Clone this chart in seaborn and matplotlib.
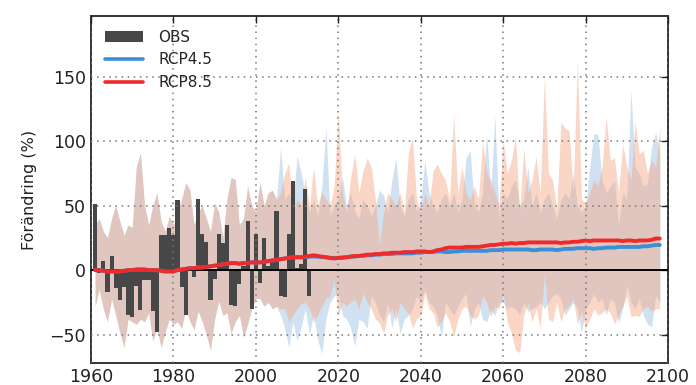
import numpy as np
import pandas as pd
import matplotlib
matplotlib.use("Agg")
import matplotlib.pyplot as plt
import seaborn as sns
from matplotlib.patches import Patch
from matplotlib.lines import Line2D

# ---------------- data ----------------
obs_years = list(range(1961, 2014))
obs_values = [51, -2, 7, -17, 11, -14, -23, -13, -35, -36,
              -12, -31, -8, -8, -32, -48, 27, 27, 33, 27,
              54, -13, -35, 2, -5, 55, 28, 22, -23, -7,
              28, 21, 35, -27, -28, -11, 3, 38, -30, 28,
              -10, 25, 3, 8, 46, -20, -21, 28, 69, 2,
              5, 63, -20]

hist_years = list(range(1961, 2006))
hist_upper = [35, 40, 30, 25, 40, 50, 38, 27, 35, 33,
              80, 91, 50, 35, 50, 60, 38, 30, 42, 35,
              45, 55, 68, 62, 35, 45, 50, 40, 30, 52,
              45, 25, 55, 72, 70, 35, 40, 65, 50, 45,
              68, 50, 60, 62, 55]
hist_lower = [-28, -15, -30, -40, -22, -35, -48, -60, -38, -40,
              -42, -38, -40, -33, -55, -45, -60, -48, -38, -42,
              -40, -45, -30, -40, -46, -32, -40, -50, -62, -38,
              -24, -35, -33, -49, -40, -35, -52, -42, -30, -22,
              -22, -28, -25, -30, -28]
hist_mean = [0, 0, -0.5, -1, -1, -1, -1, -0.5, 0, 0,
             0.5, 0.5, 0.5, 0, 0, 0, -0.5, -1, -1, -1,
             0, 0.5, 1, 1.5, 1.5, 2, 2, 2.5, 3, 3.5,
             4, 4.5, 5, 5.5, 5.5, 5, 5.5, 5.5, 6, 6,
             6, 6.5, 7, 7.5, 8]

fut_years = list(range(2006, 2099))
rcp45_upper = [95, 55, 60, 50, 89, 75, 60, 45, 55, 42,
               65, 111, 42, 50, 55, 72, 50, 60, 45, 40,
               55, 50, 42, 50, 62, 58, 45, 70, 87, 50,
               42, 55, 60, 45, 55, 85, 60, 50, 45, 55,
               60, 50, 60, 45, 55, 87, 93, 50, 45, 60,
               106, 60, 120, 41, 60, 55, 65, 70, 50, 55,
               80, 50, 60, 45, 55, 60, 50, 40, 55, 60,
               55, 75, 50, 45, 50, 80, 106, 105, 70, 60,
               65, 70, 35, 60, 55, 140, 80, 75, 65, 67,
               95, 107, 90]
rcp85_upper = [60, 75, 83, 45, 55, 50, 72, 50, 80, 50,
               60, 55, 50, 65, 124, 60, 45, 72, 90, 60,
               77, 87, 80, 55, 20, 45, 60, 55, 50, 60,
               45, 91, 103, 54, 45, 60, 50, 77, 82, 75,
               70, 55, 121, 59, 80, 60, 55, 65, 55, 100,
               75, 70, 60, 50, 101, 75, 85, 104, 45, 95,
               60, 70, 88, 60, 150, 75, 70, 47, 115, 110,
               108, 60, 163, 55, 52, 60, 70, 65, 80, 119,
               85, 87, 60, 98, 80, 70, 115, 90, 93, 75,
               85, 80, 112]
rcp45_lower = [-35, -45, -60, -40, -55, -44, -30, -50, -34, -54,
               -65, -38, -25, -20, -18, -35, -38, -45, -59, -38,
               -40, -45, -20, -25, -35, -40, -25, -45, -30, -49,
               -38, -35, -30, -20, -25, -15, -25, -28, -35, -52,
               -25, -30, -35, -28, -22, -18, -44, -30, -25, -38,
               -40, -30, -35, -25, -25, -30, -28, -30, -35, -25,
               -32, -30, -28, -25, -30, -25, -20, -18, -22, -35,
               -30, -25, -30, -49, -30, -25, -18, -25, -22, -35,
               -22, -25, -41, -30, -12, -25, -30, -22, -35, -42,
               -44, -20, -25]
rcp85_lower = [-30, -30, -40, -35, -30, -26, -25, -30, -40, -35,
               -28, -22, -20, -8, -35, -25, -28, -25, -22, -30,
               -18, -25, -30, -38, -41, -49, -35, -30, -40, -25,
               -30, -33, -45, -38, -35, -18, -30, -33, -44, -40,
               -33, -40, -52, -38, -30, -28, -35, -38, -35, -20,
               -25, -36, -28, -30, -18, -40, -49, -62, -64, -35,
               -25, -40, -30, -45, -3, -38, -40, -25, -40, -30,
               -28, -22, -42, -32, -45, -38, -30, -35, -33, -30,
               -33, -42, -35, -28, -20, -36, -35, -36, -30, -28,
               -32, -30, -30]
rcp45_mean = [8.5, 9, 9.5, 10, 10, 10, 10, 10.5, 10.5, 10.5,
              10, 10, 9.5, 9.5, 9.5, 10, 10, 10.5, 10.5, 11,
              11, 11.5, 11.5, 12, 12, 12.5, 12.5, 12.5, 13, 13,
              13, 13, 13, 13.5, 13.5, 14, 14, 14, 14.5, 14.5,
              14, 14, 14.5, 14.5, 15, 15, 15, 15, 15, 15,
              15, 15.5, 15.5, 15.5, 16, 16, 16, 16, 16, 16,
              16, 15.5, 15.5, 16, 16, 16, 16, 15.5, 16, 16.5,
              16.5, 16.5, 17, 17, 17, 17, 16.5, 17, 17, 17.5,
              17.5, 17.5, 18, 18, 18, 18, 18, 18, 18.5, 18.5,
              19, 19.5, 19.5]
rcp85_mean = [8.5, 9, 9.5, 10, 10, 10, 10.5, 11, 11.5, 11,
              10.5, 10, 9.5, 9, 9.5, 9.5, 10, 10.5, 11, 11,
              11.5, 12, 12, 12.5, 12.5, 13, 13, 13.5, 13.5, 13.5,
              14, 14, 14, 14.5, 14.5, 14.5, 14, 14.5, 15.5, 16,
              17, 17.5, 17.5, 17.5, 17.5, 18, 18, 18, 18, 18.5,
              19, 19.5, 19.5, 20, 20.5, 20.5, 21, 20.5, 21, 21,
              21.5, 21.5, 21.5, 21.5, 21.5, 21.5, 21.5, 21.5, 21, 21.5,
              21.5, 22, 22, 22.5, 23, 22.5, 23, 23, 23, 23,
              23, 23, 23, 22.5, 23, 23, 22.5, 23, 23, 23,
              23.5, 24.5, 24.5]

x_ticks = [1960, 1980, 2000, 2020, 2040, 2060, 2080, 2100]
y_ticks = [-50, 0, 50, 100, 150]

# ---------------- assemble ----------------
years_all = hist_years + fut_years
df45 = pd.DataFrame({"year": years_all,
                     "upper": hist_upper + rcp45_upper,
                     "lower": hist_lower + rcp45_lower,
                     "mean": hist_mean + rcp45_mean})
df85 = pd.DataFrame({"year": years_all,
                     "upper": hist_upper + rcp85_upper,
                     "lower": hist_lower + rcp85_lower,
                     "mean": hist_mean + rcp85_mean})

sns.set_style("white")
plt.rcParams["font.family"] = ["DejaVu Sans"]

fig = plt.figure(figsize=(6.96, 3.85), dpi=100)
ax = fig.add_axes([0.1307, 0.0571, 0.8291, 0.9013])

c45_fill = "#6fa6d8"
c85_fill = "#f4a582"
c45_line = "#3a8fd9"
c85_line = "#ee2a2a"
obs_col = "#474747"

ax.fill_between(df45["year"], df45["lower"], df45["upper"],
                color=c45_fill, alpha=0.32, linewidth=0, zorder=1)
ax.fill_between(df85["year"], df85["lower"], df85["upper"],
                color=c85_fill, alpha=0.45, linewidth=0, zorder=1.1)

bars = ax.bar(obs_years, obs_values, width=1.0, color=obs_col,
              linewidth=0, zorder=1.5)

ax.axhline(0, color="black", linewidth=1.4, zorder=2.6)

sns.lineplot(data=df45, x="year", y="mean", color=c45_line,
             linewidth=2.8, ax=ax, zorder=3)
sns.lineplot(data=df85, x="year", y="mean", color=c85_line,
             linewidth=2.8, ax=ax, zorder=3.1)

ax.set_xlim(1960, 2100)
ax.set_ylim(-72, 197)
ax.set_xticks(x_ticks)
ax.set_yticks(y_ticks)
ax.set_yticklabels(["\u221250", "0", "50", "100", "150"])
ax.tick_params(direction="in", length=5, width=1, labelsize=12.5,
               top=True, right=True, colors="#222222", labelcolor="#222222")
ax.grid(True, linestyle=(0, (1, 3)), color="#777777", linewidth=1.1)
ax.set_axisbelow(False)
for s in ax.spines.values():
    s.set_color("#333333")
    s.set_linewidth(1.4)

ax.set_xlabel("")
ax.set_ylabel("Förändring (%)", fontsize=11.5, color="#222222", labelpad=9)

handles = [Patch(facecolor=obs_col, edgecolor="none"),
           Line2D([], [], color=c45_line, linewidth=2.6),
           Line2D([], [], color=c85_line, linewidth=2.6)]
ax.legend(handles, ["OBS", "RCP4.5", "RCP8.5"], loc="upper left",
          frameon=False, fontsize=11, handlelength=2.5,
          borderaxespad=0.5, labelspacing=0.5, handletextpad=1.0)

fig.savefig("out.png", dpi=100)
